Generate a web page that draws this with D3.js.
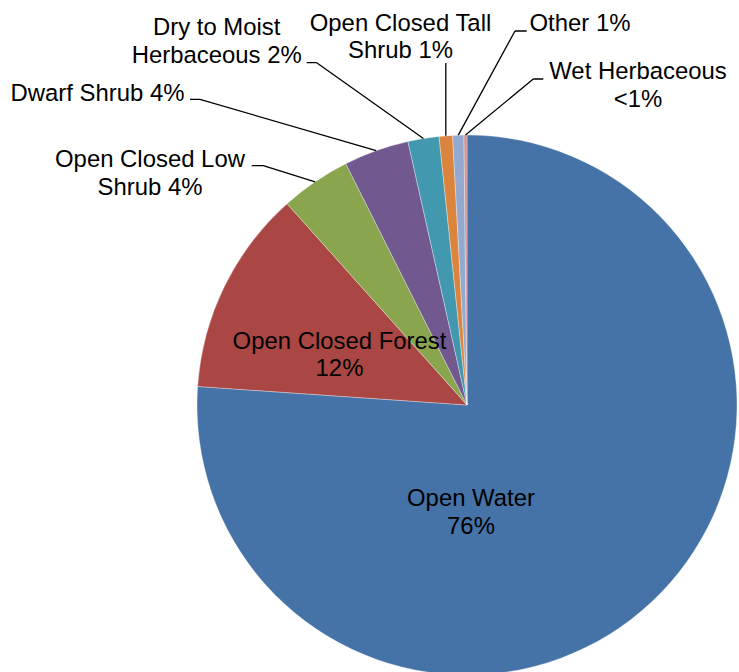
<!DOCTYPE html>
<html>
<head>
<meta charset="utf-8">
<script src="https://cdn.jsdelivr.net/npm/d3@7"></script>
<style>
  html, body { margin: 0; padding: 0; background: #fff; }
  svg { display: block; }
  text { font-family: "Liberation Sans", Arial, sans-serif; font-size: 23.9px; fill: #000; }
</style>
</head>
<body>
<div id="chart"></div>
<script>
// Land cover classes, clockwise from 12 o'clock
const categories = [
  "Open Water",
  "Open Closed Forest",
  "Open Closed Low Shrub",
  "Dwarf Shrub",
  "Dry to Moist Herbaceous",
  "Open Closed Tall Shrub",
  "Other",
  "Wet Herbaceous"
];
// Share of total area (%)
const shares = [76.1, 12.3, 4.2, 3.9, 1.86, 0.8, 0.67, 0.18];
// Percent text shown with each label
const percentLabels = ["76%", "12%", "4%", "4%", "2%", "1%", "1%", "<1%"];
// Slice fill colours
const colors = ["#4572A7", "#AA4643", "#89A54E", "#71588F", "#4198AF", "#DB843D", "#93A9CF", "#D19392"];

// Label placement: text lines, centre x, first baseline, optional leader elbow
const labelLayout = [
  { lines: ["Open Water", "76%"], x: 471, y: 506, inside: true },
  { lines: ["Open Closed Forest", "12%"], x: 339.5, y: 348.5, inside: true },
  { lines: ["Open Closed Low", "Shrub 4%"], x: 150, y: 167, tick: [251.7, 263.3, 165.7], from: 263.3 },
  { lines: ["Dwarf Shrub 4%"], x: 97.5, y: 100.5, tick: [190, 200, 99.3], from: 200 },
  { lines: ["Dry to Moist", "Herbaceous 2%"], x: 216.7, y: 35, tick: [306.7, 316.7, 62.7], from: 316.7 },
  { lines: ["Open Closed Tall", "Shrub 1%"], x: 400.5, y: 30.7, vertical: 63 },
  { lines: ["Other 1%"], x: 580, y: 31, tick: [515, 526.7, 31], from: 515 },
  { lines: ["Wet Herbaceous", "<1%"], x: 638, y: 79, tick: [533.3, 543.3, 79], from: 533.3 }
];

const W = 739, H = 672;
const cx = 467, cy = 405, R = 270;
const lineGap = 27.5;

const svg = d3.select("#chart").append("svg")
  .attr("width", W).attr("height", H);

const pie = d3.pie().sort(null).value(d => d.value);
const arcs = pie(categories.map((c, i) => ({ name: c, value: shares[i], color: colors[i] })));

const arc = d3.arc().innerRadius(0).outerRadius(R);
const rim = d3.arc().innerRadius(R).outerRadius(R);

const g = svg.append("g").attr("transform", `translate(${cx},${cy})`);

g.selectAll("path.slice")
  .data(arcs)
  .join("path")
  .attr("class", "slice")
  .attr("d", arc)
  .attr("fill", d => d.data.color)
  .attr("stroke", "#ffffff")
  .attr("stroke-opacity", 0.55)
  .attr("stroke-width", 0.6);

// Leader lines from outside labels to the slice rim
const leaders = svg.append("g")
  .attr("fill", "none")
  .attr("stroke", "#000")
  .attr("stroke-width", 1.3);

arcs.forEach((d, i) => {
  const L = labelLayout[i];
  if (L.inside) return;
  const [px, py] = rim.centroid(d);
  const ex = cx + px, ey = cy + py;
  if (L.vertical !== undefined) {
    leaders.append("path").attr("d", `M${ex},${L.vertical}L${ex},${ey}`);
  } else {
    const [x0, x1, ty] = L.tick;
    leaders.append("path").attr("d", `M${x0},${ty}L${x1},${ty}M${L.from},${ty}L${ex},${ey}`);
  }
});

// Labels
const labels = svg.append("g");
arcs.forEach((d, i) => {
  const L = labelLayout[i];
  const t = labels.append("text").attr("text-anchor", "middle");
  L.lines.forEach((s, k) => {
    t.append("tspan").attr("x", L.x).attr("y", L.y + k * lineGap).text(s);
  });
});
</script>
</body>
</html>
